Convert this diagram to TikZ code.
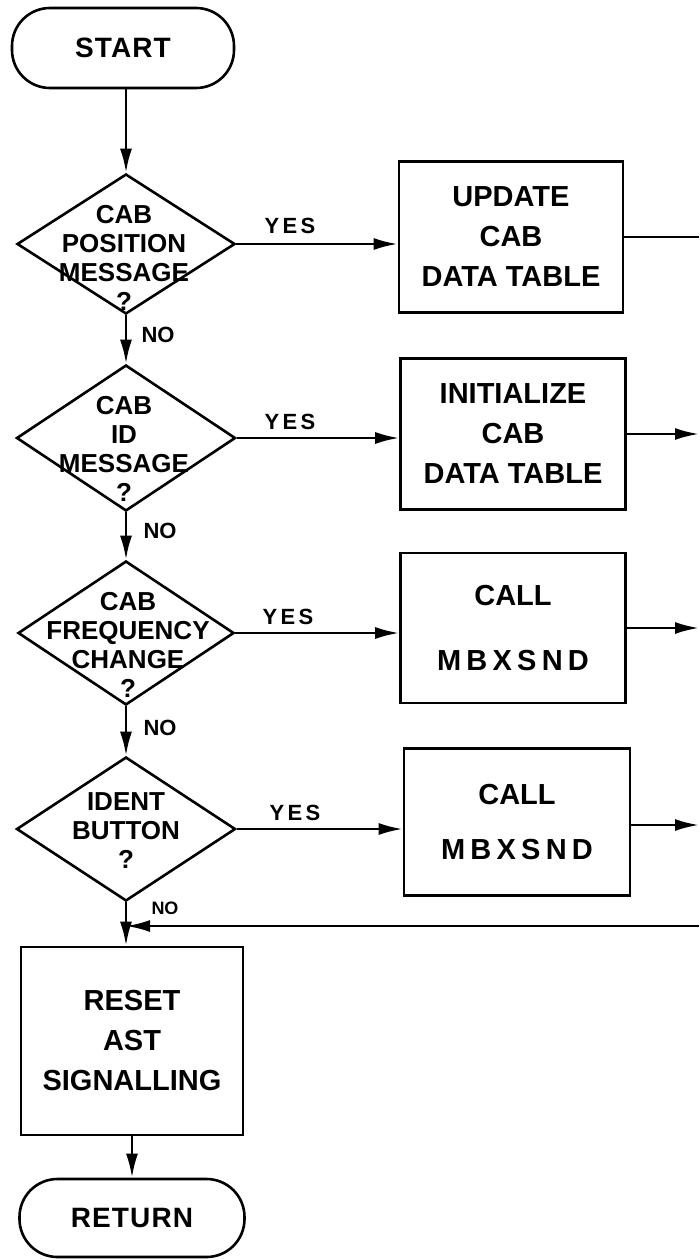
\documentclass[tikz,border=0pt]{standalone}
\usepackage{fontspec}
\setmainfont{Liberation Sans}
\usetikzlibrary{shapes.geometric,arrows.meta}
\newcommand\mybfont{\fontsize{29}{40}\selectfont\bfseries}
\newcommand\mytfont{\fontsize{28}{34}\selectfont\bfseries\addfontfeature{LetterSpace=4}}
\newcommand\mydfont{\fontsize{26}{29}\selectfont\bfseries}
\newcommand\mylfont{\fontsize{22}{24}\selectfont\bfseries}
\begin{document}
\begin{tikzpicture}[x=1pt,y=-1pt,
  flow/.style={line width=2.6pt},
  arr/.style={flow,-{Latex[length=24pt,width=12pt]}},
  term/.style={draw,line width=2.6pt,rectangle,rounded corners=38pt,minimum width=222pt,minimum height=80pt,inner sep=0pt,font=\mytfont},
  proc/.style={draw,line width=2.6pt,rectangle,inner sep=0pt,align=center,font=\mybfont},
  dec/.style={draw,line width=2.6pt,diamond,inner sep=0pt},
  dectext/.style={align=center,font=\mydfont,inner sep=0pt},
  lbl/.style={font=\mylfont,inner sep=0pt}]
\useasboundingbox (0,0) rectangle (699,1260);

% terminals
\node[term] (start) at (123,48) {START};
\node[term,minimum width=225pt,minimum height=78pt] (ret) at (132,1218) {RETURN};

% decisions
\node[dec,minimum width=218pt,minimum height=140pt] (d1) at (126,244) {};
\node[dectext] (d1t) at (124,258) {CAB\\POSITION\\MESSAGE\\?};
\node[dec,minimum width=219pt,minimum height=146pt] (d2) at (126,438) {};
\node[dectext] (d2t) at (124,449) {CAB\\ID\\MESSAGE\\?};
\node[dec,minimum width=216pt,minimum height=144pt] (d3) at (126,633) {};
\node[dectext] (d3t) at (128,645) {CAB\\FREQUENCY\\CHANGE\\?};
\node[dec,minimum width=219pt,minimum height=144pt] (d4) at (126,829) {};
\node[dectext] (d4t) at (126,831) {IDENT\\BUTTON\\?};

% processes
\node[proc,minimum width=224pt,minimum height=151pt] (b1) at (511,237) {UPDATE\\CAB\\DATA TABLE};
\node[proc,minimum width=225pt,minimum height=151pt] (b2) at (513,434) {INITIALIZE\\CAB\\DATA TABLE};
\node[proc,minimum width=225pt,minimum height=150pt] (b3) at (513,628) {CALL\\[25pt]{\addfontfeature{LetterSpace=18}MBXSND}};
\node[proc,minimum width=226pt,minimum height=147pt] (b4) at (517,822) {CALL\\[15pt]{\addfontfeature{LetterSpace=18}MBXSND}};
\node[proc,minimum width=222pt,minimum height=188pt] (b5) at (132,1041) {RESET\\AST\\SIGNALLING};

% free ends at the right edge
\coordinate (r1) at (699,237);
\coordinate (r2) at (699,434);
\coordinate (r3) at (699,628);
\coordinate (r4) at (699,825);
\coordinate (r5) at (699,926);

% main flow
\draw[arr] (start.south -| d1.north) -- (d1.north);
\draw[arr] (d1.south) -- (d2.north);
\draw[arr] (d2.south) -- (d3.north);
\draw[arr] (d3.south) -- (d4.north);
\draw[arr] (d4.south) -- (d4.south |- b5.north);
\draw[arr] (b5.south) -- (ret.north);

% yes branches
\draw[arr] (d1.east) -- (d1.east -| b1.west);
\draw[arr] (d2.east) -- (d2.east -| b2.west);
\draw[arr] (d3.east) -- (d3.east -| b3.west);
\draw[arr] (d4.east) -- (d4.east -| b4.west);

% outputs to right edge
\draw[flow] (b1.east) -- (r1);
\draw[arr] (b2.east) -- (r2);
\draw[arr] (b3.east) -- (r3);
\draw[arr] (b4.east |- r4) -- (r4);
\draw[arr] (r5) -- (r5 -| d4.south);

% labels
\node[lbl,font=\mylfont\addfontfeature{LetterSpace=15}] (y1) at (290,226) {YES};
\node[lbl,font=\mylfont\addfontfeature{LetterSpace=15}] (y2) at (290,422) {YES};
\node[lbl,font=\mylfont\addfontfeature{LetterSpace=15}] (y3) at (288,617) {YES};
\node[lbl,font=\mylfont\addfontfeature{LetterSpace=15}] (y4) at (295,813) {YES};
\node[lbl] (n1) at (158,335) {NO};
\node[lbl] (n2) at (160,531) {NO};
\node[lbl] (n3) at (160,728) {NO};
\node[lbl,font=\fontsize{18}{20}\selectfont\bfseries] (n4) at (165,908) {NO};
\end{tikzpicture}
\end{document}
